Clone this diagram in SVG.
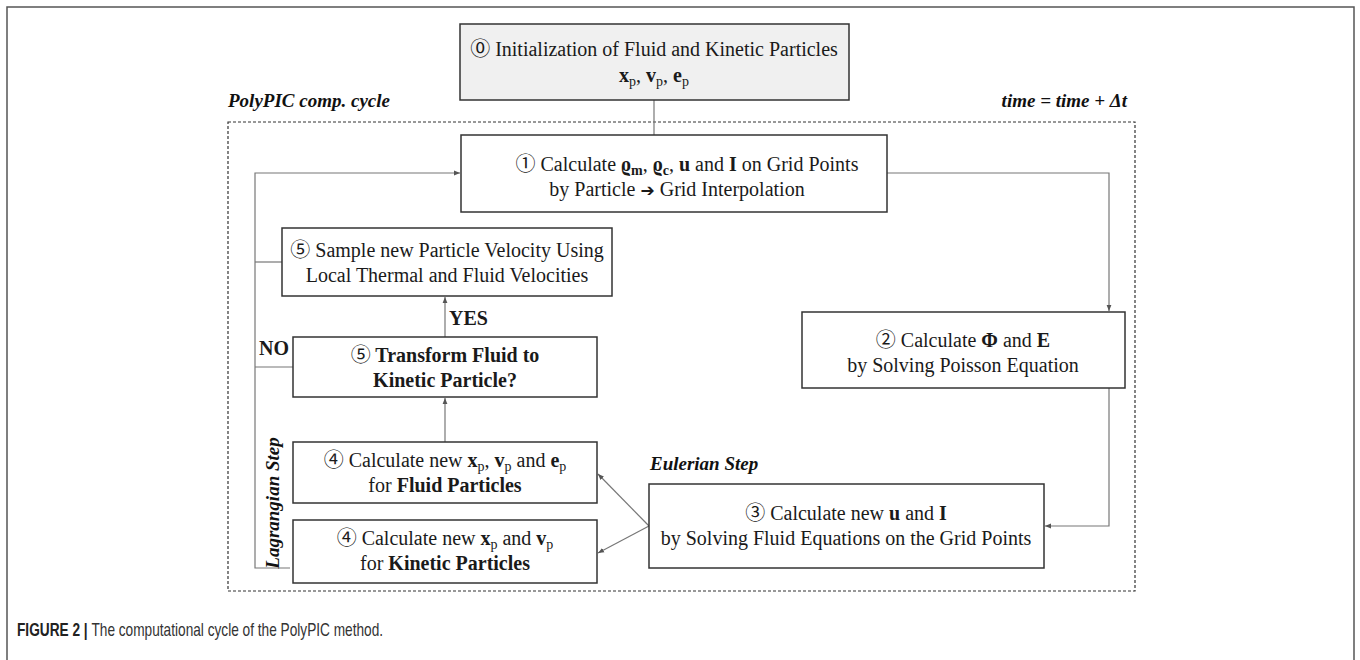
<svg xmlns="http://www.w3.org/2000/svg" width="1360" height="660" viewBox="0 0 1360 660">
<style>
.t{font-family:"Liberation Serif","DejaVu Serif",serif;font-size:20px;fill:#1a1a1a}
.b{font-weight:bold}
.bi{font-family:"Liberation Serif","DejaVu Serif",serif;font-size:19px;font-weight:bold;font-style:italic;fill:#111}
.sub{font-size:14px}
.cd{font-family:"Noto Sans CJK JP","DejaVu Sans",sans-serif;font-size:20px;font-weight:normal}
.ar{font-family:"DejaVu Sans",sans-serif;font-size:17px;font-weight:bold}
.box{fill:#fff;stroke:#333;stroke-width:1.5}
.conn{fill:none;stroke:#777;stroke-width:1.2}
.cap{font-family:"Liberation Sans",sans-serif;font-size:18px;fill:#333}
</style>
<defs>
<marker id="arr" viewBox="0 0 10 10" refX="10" refY="5" markerWidth="5" markerHeight="5" orient="auto-start-reverse">
<path d="M0,1 L10,5 L0,9 z" fill="#555"/>
</marker>
</defs>
<rect x="7" y="7" width="1347" height="700" fill="none" stroke="#555" stroke-width="1.5"/>
<rect x="228" y="122" width="907" height="469" fill="none" stroke="#333" stroke-width="1.2" stroke-dasharray="3 2"/>
<text class="bi" x="228" y="107">PolyPIC comp. cycle</text>
<text class="bi" x="1127" y="107" text-anchor="end">time = time + Δt</text>
<text class="bi" x="650" y="470">Eulerian Step</text>
<text class="bi" transform="translate(279,503) rotate(-90)" text-anchor="middle">Lagrangian Step</text>
<text class="t b" x="259" y="355">NO</text>
<text class="t b" x="449" y="325">YES</text>

<g id="connectors">
<line class="conn" x1="654" y1="100" x2="654" y2="135"/>
<polyline class="conn" points="290,568 255,568 255,173 460,173" marker-end="url(#arr)"/>
<line class="conn" x1="255" y1="262" x2="282" y2="262"/>
<line class="conn" x1="255" y1="367" x2="293" y2="367"/>
<line class="conn" x1="445" y1="337" x2="445" y2="297" marker-end="url(#arr)"/>
<line class="conn" x1="445" y1="442" x2="445" y2="398" marker-end="url(#arr)"/>
<polyline class="conn" points="887,173 1109,173 1109,311" marker-end="url(#arr)"/>
<polyline class="conn" points="1109,388 1109,526 1045,526" marker-end="url(#arr)"/>
<line class="conn" x1="649" y1="526" x2="598" y2="474" marker-end="url(#arr)"/>
<line class="conn" x1="649" y1="526" x2="598" y2="553" marker-end="url(#arr)"/>
</g>

<g id="node0">
<rect x="460" y="24" width="389" height="76" fill="#f0f0f0" stroke="#333" stroke-width="1.5"/>
<text class="t" x="654" y="56" text-anchor="middle"><tspan class="cd">⓪</tspan> Initialization of Fluid and Kinetic Particles</text>
<text class="t" x="654" y="82" text-anchor="middle"><tspan class="b">x</tspan><tspan class="sub" dy="4">p</tspan><tspan dy="-4">, </tspan><tspan class="b">v</tspan><tspan class="sub" dy="4">p</tspan><tspan dy="-4">, </tspan><tspan class="b">e</tspan><tspan class="sub" dy="4">p</tspan></text>
</g>

<g id="node1">
<rect class="box" x="461" y="135" width="426" height="77"/>
<text class="t" x="687" y="171" text-anchor="middle"><tspan class="cd">①</tspan>  Calculate <tspan class="b">ϱ</tspan><tspan class="sub b" dy="4">m</tspan><tspan dy="-4">, </tspan><tspan class="b">ϱ</tspan><tspan class="sub b" dy="4">c</tspan><tspan dy="-4">, </tspan><tspan class="b">u</tspan> and <tspan class="b">I</tspan> on Grid Points</text>
<text class="t" x="677" y="196" text-anchor="middle">by Particle <tspan class="ar">➔</tspan> Grid Interpolation</text>
</g>

<g id="node2">
<rect class="box" x="802" y="312" width="323" height="76"/>
<text class="t" x="963" y="347" text-anchor="middle"><tspan class="cd">②</tspan> Calculate <tspan class="b">Φ</tspan> and <tspan class="b">E</tspan></text>
<text class="t" x="963" y="372" text-anchor="middle">by Solving Poisson Equation</text>
</g>

<g id="node3">
<rect class="box" x="649" y="484" width="395" height="84"/>
<text class="t" x="846" y="520" text-anchor="middle"><tspan class="cd">③</tspan> Calculate new <tspan class="b">u</tspan> and <tspan class="b">I</tspan></text>
<text class="t" x="846" y="545" text-anchor="middle">by Solving Fluid Equations on the Grid Points</text>
</g>

<g id="node5a">
<rect class="box" x="282" y="228" width="330" height="68"/>
<text class="t" x="447" y="257" text-anchor="middle"><tspan class="cd">⑤</tspan> Sample new Particle Velocity Using</text>
<text class="t" x="447" y="282" text-anchor="middle">Local Thermal and Fluid Velocities</text>
</g>

<g id="node5b">
<rect class="box" x="293" y="337" width="304" height="60"/>
<text class="t b" x="445" y="362" text-anchor="middle"><tspan class="cd">⑤</tspan> Transform Fluid to</text>
<text class="t b" x="445" y="387" text-anchor="middle">Kinetic Particle?</text>
</g>

<g id="node4a">
<rect class="box" x="293" y="442" width="304" height="61"/>
<text class="t" x="445" y="467" text-anchor="middle"><tspan class="cd">④</tspan> Calculate new <tspan class="b">x</tspan><tspan class="sub" dy="4">p</tspan><tspan dy="-4">, </tspan><tspan class="b">v</tspan><tspan class="sub" dy="4">p</tspan><tspan dy="-4"> and </tspan><tspan class="b">e</tspan><tspan class="sub" dy="4">p</tspan></text>
<text class="t" x="445" y="492" text-anchor="middle">for <tspan class="b">Fluid Particles</tspan></text>
</g>

<g id="node4b">
<rect class="box" x="293" y="520" width="304" height="63"/>
<text class="t" x="445" y="545" text-anchor="middle"><tspan class="cd">④</tspan> Calculate new <tspan class="b">x</tspan><tspan class="sub" dy="4">p</tspan><tspan dy="-4"> and </tspan><tspan class="b">v</tspan><tspan class="sub" dy="4">p</tspan></text>
<text class="t" x="445" y="570" text-anchor="middle">for <tspan class="b">Kinetic Particles</tspan></text>
</g>

<text class="cap" transform="translate(17,636) scale(0.76,1)" x="0" y="0"><tspan font-weight="bold" fill="#222">FIGURE 2 | </tspan>The computational cycle of the PolyPIC method.</text>
</svg>
